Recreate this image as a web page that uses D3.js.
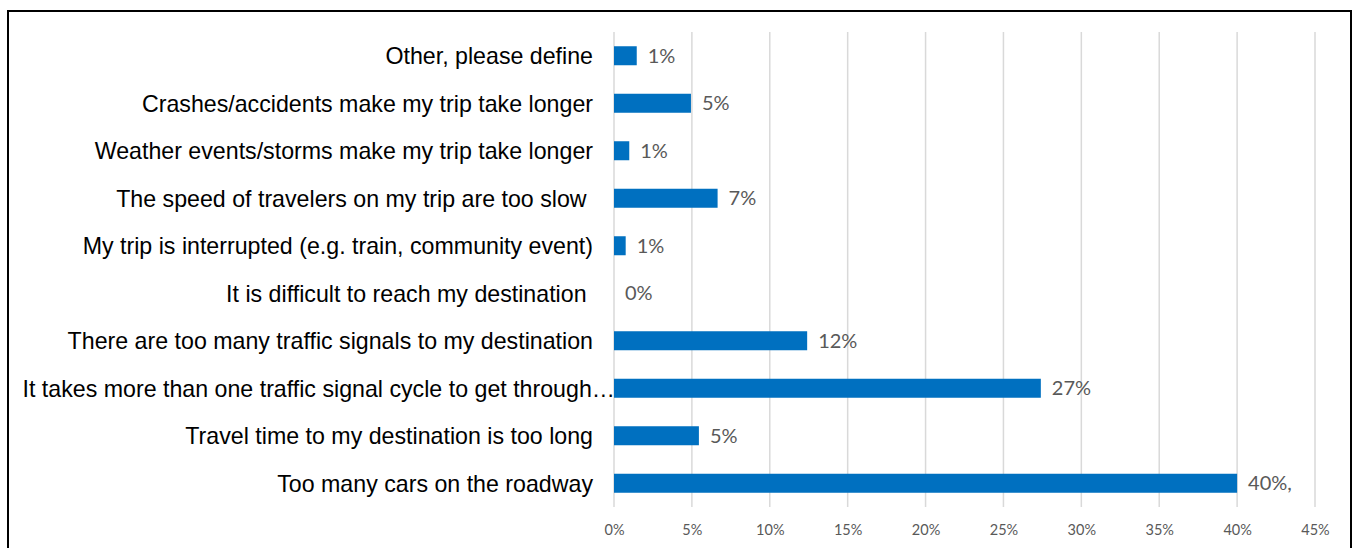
<!DOCTYPE html>
<html>
<head>
<meta charset="utf-8">
<script src="https://cdn.jsdelivr.net/npm/d3@7"></script>
<style>
  html, body { margin: 0; padding: 0; background: #fff; }
  svg { display: block; }
</style>
</head>
<body>
<svg id="chart" width="1354" height="548"></svg>
<script>
const categories = [
  "Other, please define",
  "Crashes/accidents make my trip take longer",
  "Weather events/storms make my trip take longer",
  "The speed of travelers on my trip are too slow ",
  "My trip is interrupted (e.g. train, community event)",
  "It is difficult to reach my destination ",
  "There are too many traffic signals to my destination",
  "It takes more than one traffic signal cycle to get through…",
  "Travel time to my destination is too long",
  "Too many cars on the roadway"
];
const values = [1.46, 4.94, 0.98, 6.65, 0.75, 0, 12.4, 27.4, 5.45, 40.0];
const valueLabels = ["1%", "5%", "1%", "7%", "1%", "0%", "12%", "27%", "5%", "40%,"];
const tickValues = [0, 5, 10, 15, 20, 25, 30, 35, 40, 45];

const svg = d3.select("#chart");

// outer frame
svg.append("rect")
  .attr("x", 8).attr("y", 11)
  .attr("width", 1343).attr("height", 620)
  .attr("fill", "#fff")
  .attr("stroke", "#000")
  .attr("stroke-width", 2);

const plot = { left: 614, right: 1315, top: 32, bottom: 507 };

const x = d3.scaleLinear().domain([0, 45]).range([plot.left, plot.right]);
const y = d3.scaleBand().domain(categories).range([plot.top, plot.bottom]).paddingInner(0.6).paddingOuter(0.3);

// gridlines
svg.append("g")
  .selectAll("line")
  .data(tickValues)
  .join("line")
  .attr("x1", d => x(d)).attr("x2", d => x(d))
  .attr("y1", plot.top).attr("y2", plot.bottom)
  .attr("stroke", "#d9d9d9")
  .attr("stroke-width", 1.5);

// x axis tick labels
const xAxis = d3.axisBottom(x).tickValues(tickValues).tickFormat(d => d + "%").tickSize(0).tickPadding(0);
const gx = svg.append("g").attr("transform", `translate(0,${plot.bottom})`).call(xAxis);
gx.select(".domain").remove();
gx.selectAll("text")
  .attr("y", 28)
  .attr("dy", 0)
  .attr("font-family", "Lato, 'Open Sans', sans-serif")
  .attr("font-size", 14.5)
  .attr("fill", "#595959");

// bars
svg.append("g")
  .selectAll("rect")
  .data(categories)
  .join("rect")
  .attr("x", x(0))
  .attr("y", d => y(d))
  .attr("width", (d, i) => x(values[i]) - x(0))
  .attr("height", y.bandwidth())
  .attr("fill", "#0070C0");

// category labels
svg.append("g")
  .selectAll("text")
  .data(categories)
  .join("text")
  .attr("x", (d, i) => i === 7 ? 615 : 593)
  .attr("y", d => y(d) + y.bandwidth() / 2)
  .attr("dy", "0.36em")
  .attr("text-anchor", "end")
  .style("white-space", "pre")
  .attr("font-family", "'Liberation Sans', Arial, sans-serif")
  .attr("font-size", 23.2)
  .attr("fill", "#000")
  .text(d => d);

// value labels
svg.append("g")
  .selectAll("text")
  .data(categories)
  .join("text")
  .attr("x", (d, i) => x(values[i]) + 11)
  .attr("y", d => y(d) + y.bandwidth() / 2)
  .attr("dy", "0.36em")
  .attr("font-family", "Lato, 'Open Sans', sans-serif")
  .attr("font-size", 20)
  .attr("fill", "#595959")
  .text((d, i) => valueLabels[i]);
</script>
</body>
</html>
